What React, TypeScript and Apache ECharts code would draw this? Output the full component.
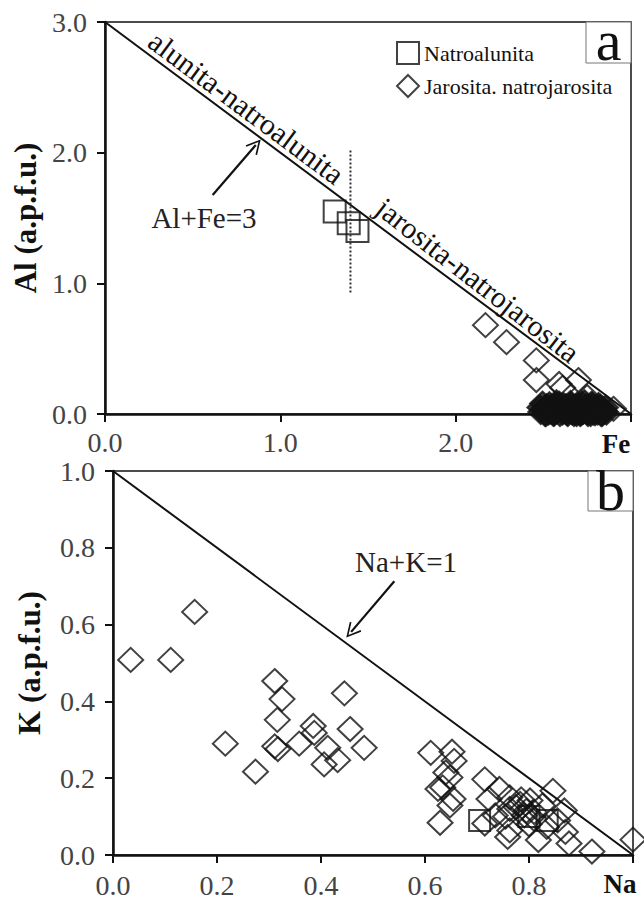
import React, { useEffect, useRef } from "react";
import * as echarts from "echarts";

const FONT = "Liberation Serif";

// ---- Panel a: Fe vs Al ----
const natroFe = [1.31, 1.39, 1.44];
const natroAl = [1.55, 1.46, 1.4];

const jaroFe = [
  2.17, 2.29, 2.46, 2.46, 2.59, 2.61, 2.7, 2.75, 2.9,
  2.48, 2.5, 2.52, 2.53, 2.55, 2.56, 2.57, 2.58, 2.6, 2.61, 2.62, 2.63, 2.64, 2.65,
  2.66, 2.67, 2.68, 2.69, 2.7, 2.71, 2.72, 2.73, 2.74, 2.75, 2.76, 2.77, 2.78, 2.79,
  2.8, 2.81, 2.82, 2.83, 2.84, 2.85, 2.86, 2.54, 2.59, 2.66, 2.72, 2.78, 2.51, 2.57,
  2.63, 2.69, 2.75, 2.81,
  2.485, 2.505, 2.525, 2.545, 2.565, 2.585, 2.605, 2.625, 2.645, 2.665, 2.685, 2.705,
  2.725, 2.745, 2.765, 2.785, 2.805, 2.825, 2.845, 2.495, 2.535, 2.575, 2.615, 2.655,
  2.695, 2.735, 2.775, 2.815, 2.855, 2.515, 2.555, 2.595, 2.635, 2.675, 2.715, 2.755,
  2.795, 2.835,
];
const jaroAl = [
  0.68, 0.55, 0.41, 0.26, 0.23, 0.2, 0.26, 0.13, 0.04,
  0.05, 0.03, 0.06, 0.01, 0.04, 0.0, 0.07, 0.02, 0.05, 0.01, 0.03, 0.06, 0.0, 0.04,
  0.02, 0.05, 0.01, 0.03, 0.06, 0.0, 0.04, 0.02, 0.05, 0.01, 0.03, 0.0, 0.04, 0.02,
  0.05, 0.01, 0.03, 0.0, 0.04, 0.02, 0.01, 0.02, 0.08, 0.07, 0.08, 0.07, 0.0, 0.03,
  0.02, 0.0, 0.04, 0.03,
  0.015, 0.045, 0.025, 0.055, 0.01, 0.035, 0.06, 0.02, 0.045, 0.01, 0.055, 0.03,
  0.015, 0.06, 0.045, 0.01, 0.03, 0.055, 0.015, 0.08, 0.075, 0.09, 0.07, 0.085,
  0.075, 0.09, 0.08, 0.07, 0.05, 0.0, 0.005, 0.0, 0.005, 0.0, 0.005, 0.0,
  0.005, 0.0,
];

const lineAlFe = { x: [0, 3], y: [3, 0] };
const errorBarA = { x: [1.4, 1.4], y: [0.93, 2.02] };

const topXLabels = ["0.0", "1.0", "2.0", ""];
const topYLabels = ["0.0", "1.0", "2.0", "3.0"];

// ---- Panel b: Na vs K ----
const natroNa = [0.705, 0.8, 0.835];
const natroK = [0.09, 0.1, 0.09];

const jaroNa = [
  0.034, 0.111, 0.157, 0.216, 0.274, 0.311, 0.325, 0.316, 0.311, 0.317, 0.358, 0.385,
  0.387, 0.413, 0.406, 0.432, 0.445, 0.456, 0.483, 0.611, 0.652, 0.656, 0.64, 0.648,
  0.634, 0.625, 0.654, 0.648, 0.629, 0.715, 0.723, 0.743, 0.763, 0.763, 0.783, 0.802,
  0.81, 0.846, 0.868, 0.81, 0.791, 0.759, 0.763, 0.818, 0.834, 0.87, 0.877, 0.921,
  1.0, 0.715, 0.735, 0.855, 0.826, 0.775, 0.795, 0.785, 0.755, 0.8,
];
const jaroK = [
  0.508, 0.508, 0.633, 0.29, 0.217, 0.453, 0.406, 0.352, 0.283, 0.276, 0.29, 0.336,
  0.318, 0.279, 0.236, 0.247, 0.421, 0.328, 0.279, 0.266, 0.269, 0.245, 0.215, 0.202,
  0.176, 0.172, 0.146, 0.129, 0.084, 0.197, 0.146, 0.172, 0.15, 0.12, 0.133, 0.142,
  0.112, 0.167, 0.116, 0.094, 0.103, 0.047, 0.064, 0.039, 0.073, 0.06, 0.03, 0.009,
  0.04, 0.082, 0.103, 0.09, 0.129, 0.125, 0.115, 0.145, 0.1, 0.08,
];

const lineNaK = { x: [0, 1], y: [1, 0] };

const botXLabels = ["0.0", "0.2", "0.4", "0.6", "0.8", ""];
const botYLabels = ["0.0", "0.2", "0.4", "0.6", "0.8", "1.0"];

const SERIES_NATRO = "Natroalunita";
const SERIES_JARO = "Jarosita. natrojarosita";

const zip = (a: number[], b: number[]) => a.map((v, i) => [v, b[i]]);

// open V arrow head (tip at top)
const CHEVRON = "path://M0,14 L7,0 L14,14 L12.6,14.8 L7,3.4 L1.4,14.8 Z";

function axisCommon(labels: string[], interval: number, margin: number) {
  return {
    axisLine: { show: true, onZero: false, lineStyle: { color: "#111", width: 2.5 } },
    axisTick: { show: true, inside: false, length: 8, lineStyle: { color: "#111", width: 2 } },
    splitLine: { show: false },
    axisLabel: {
      fontFamily: FONT,
      fontSize: 28,
      color: "#444",
      margin,
      showMaxLabel: true,
      showMinLabel: true,
      formatter: (v: number) => labels[Math.round(v / interval)] ?? "",
    },
  };
}

export default function App() {
  const ref = useRef<HTMLDivElement>(null);

  useEffect(() => {
    if (!ref.current) return;
    const chart = echarts.init(ref.current, undefined, { renderer: "svg" });

    const hollow = { color: "rgba(0,0,0,0)", borderColor: "#111", borderWidth: 2 };
    // the dense low-Al cluster reads as a solid black mass in the figure
    const jaroStyle = {
      ...hollow,
      color: (p: any) => (p.value[1] < 0.095 && p.value[0] < 2.88 ? "#111" : "rgba(0,0,0,0)"),
    };
    const nameStyle = { fontFamily: FONT, fontSize: 31, fontWeight: "bold", color: "#111" };

    const arrowLine = (from: number[], to: number[]) => ({
      silent: true, symbol: ["none", CHEVRON], symbolSize: [15, 15],
      lineStyle: { color: "#111", width: 2.2, type: "solid" }, label: { show: false },
      data: [[{ coord: from }, { coord: to }]],
    });

    const option: any = {
      animation: false,
      backgroundColor: "#fff",
      textStyle: { fontFamily: FONT },
      grid: [
        { left: 105, top: 22, width: 526, height: 392, show: true, borderColor: "#111", borderWidth: 1.5, backgroundColor: "transparent" },
        { left: 113, top: 471, width: 520, height: 386, show: true, borderColor: "#111", borderWidth: 1.5, backgroundColor: "transparent" },
      ],
      legend: {
        data: [SERIES_NATRO, { name: SERIES_JARO, itemStyle: hollow }],
        orient: "vertical",
        left: 396,
        top: 41,
        padding: 0,
        itemWidth: 22,
        itemHeight: 22,
        itemGap: 9,
        selectedMode: false,
        textStyle: { fontFamily: FONT, fontSize: 22, color: "#111" },
      },
      xAxis: [
        { type: "value", gridIndex: 0, min: 0, max: 3, interval: 1, ...axisCommon(topXLabels, 1, 14) },
        { type: "value", gridIndex: 1, min: 0, max: 1, interval: 0.2, ...axisCommon(botXLabels, 0.2, 16) },
      ],
      yAxis: [
        {
          type: "value", gridIndex: 0, min: 0, max: 3, interval: 1, ...axisCommon(topYLabels, 1, 18),
          name: "Al (a.p.f.u.)", nameLocation: "middle", nameGap: 62, nameTextStyle: nameStyle,
        },
        {
          type: "value", gridIndex: 1, min: 0, max: 1, interval: 0.2, ...axisCommon(botYLabels, 0.2, 18),
          name: "K (a.p.f.u.)", nameLocation: "middle", nameGap: 68, nameTextStyle: nameStyle,
        },
      ],
      series: [
        {
          name: "Al+Fe=3", type: "line", xAxisIndex: 0, yAxisIndex: 0, symbol: "none", silent: true,
          data: zip(lineAlFe.x, lineAlFe.y), lineStyle: { color: "#111", width: 2 },
          markLine: arrowLine([0.614, 1.676], [0.86, 2.058]),
        },
        {
          name: "range", type: "line", xAxisIndex: 0, yAxisIndex: 0, symbol: "none", silent: true,
          data: zip(errorBarA.x, errorBarA.y), lineStyle: { color: "#333", width: 2, type: [2, 2] },
        },
        {
          name: SERIES_NATRO, type: "scatter", xAxisIndex: 0, yAxisIndex: 0, symbol: "rect", symbolSize: 22,
          clip: false, itemStyle: hollow, data: zip(natroFe, natroAl),
        },
        {
          name: SERIES_JARO, type: "scatter", xAxisIndex: 0, yAxisIndex: 0, symbol: "diamond", symbolSize: [25, 24],
          clip: false, itemStyle: jaroStyle, data: zip(jaroFe, jaroAl),
        },
        {
          name: "Na+K=1", type: "line", xAxisIndex: 1, yAxisIndex: 1, symbol: "none", silent: true,
          data: zip(lineNaK.x, lineNaK.y), lineStyle: { color: "#111", width: 2 },
          markLine: arrowLine([0.541, 0.713], [0.458, 0.581]),
        },
        {
          name: SERIES_NATRO, type: "scatter", xAxisIndex: 1, yAxisIndex: 1, symbol: "rect", symbolSize: 21,
          clip: false, itemStyle: hollow, data: zip(natroNa, natroK),
        },
        {
          name: SERIES_JARO, type: "scatter", xAxisIndex: 1, yAxisIndex: 1, symbol: "diamond", symbolSize: [25, 24],
          clip: false, itemStyle: hollow, data: zip(jaroNa, jaroK),
        },
      ],
      graphic: [
        { type: "rect", z: 100, shape: { x: 586, y: 22, width: 45, height: 41 }, style: { fill: "#fff", stroke: "#777", lineWidth: 1 } },
        { type: "text", z: 101, x: 608.5, y: 40, style: { text: "a", fontFamily: FONT, fontSize: 58, fill: "#111", align: "center", verticalAlign: "middle" } },
        { type: "rect", z: 100, shape: { x: 588, y: 471, width: 45, height: 40 }, style: { fill: "#fff", stroke: "#777", lineWidth: 1 } },
        { type: "text", z: 101, x: 610.5, y: 490, style: { text: "b", fontFamily: FONT, fontSize: 58, fill: "#111", align: "center", verticalAlign: "middle" } },
        { type: "text", z: 50, x: 204, y: 218, style: { text: "Al+Fe=3", fontFamily: FONT, fontSize: 29, fill: "#222", align: "center", verticalAlign: "middle" } },
        { type: "text", z: 50, x: 406, y: 562, style: { text: "Na+K=1", fontFamily: FONT, fontSize: 29, fill: "#222", align: "center", verticalAlign: "middle" } },
        { type: "text", z: 50, x: 246.5, y: 107.5, rotation: -0.64, style: { text: "alunita-natroalunita", fontFamily: FONT, fontSize: 30, fill: "#111", align: "center", verticalAlign: "middle" } },
        { type: "text", z: 50, x: 478, y: 280, rotation: -0.66, style: { text: "jarosita-natrojarosita", fontFamily: FONT, fontSize: 30, fill: "#111", align: "center", verticalAlign: "middle" } },
        { type: "text", z: 50, x: 616, y: 444, style: { text: "Fe", fontFamily: FONT, fontSize: 27, fontWeight: "bold", fill: "#111", align: "center", verticalAlign: "middle" } },
        { type: "text", z: 50, x: 620, y: 884, style: { text: "Na", fontFamily: FONT, fontSize: 27, fontWeight: "bold", fill: "#111", align: "center", verticalAlign: "middle" } },
      ],
    };

    chart.setOption(option);
    return () => chart.dispose();
  }, []);

  return <div ref={ref} style={{ position: "absolute", left: 0, top: 0, width: 644, height: 899, background: "#fff" }} />;
}
